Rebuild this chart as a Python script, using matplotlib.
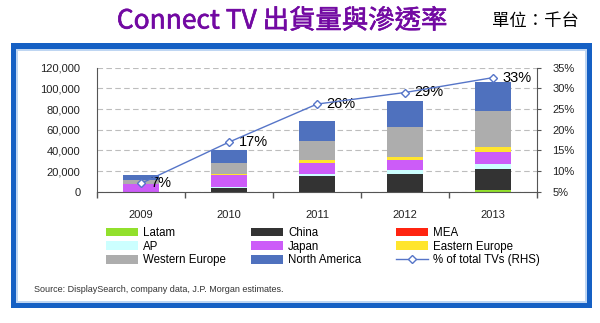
import matplotlib
matplotlib.use("Agg")
import matplotlib.pyplot as plt
import matplotlib.patheffects as pe
from matplotlib.patches import Rectangle
from matplotlib.ticker import FuncFormatter

# data (thousand units)
years = ["2009", "2010", "2011", "2012", "2013"]
latam = [0, 0, 0, 0, 1500]
china = [0, 3900, 15200, 17100, 20300]
mea = [0, 0, 0, 0, 0]
ap = [0, 700, 1600, 3600, 4800]
japan = [7000, 11300, 10650, 9700, 11600]
east_eu = [0, 1550, 3200, 3500, 5100]
west_eu = [4300, 10650, 18400, 29000, 34800]
n_america = [4600, 12300, 19350, 24900, 28000]
pct_tvs = [7.0, 17.0, 26.2, 29.0, 32.6]
pct_labels = ["7%", "17%", "26%", "29%", "33%"]

region_names = ["Latam", "China", "MEA", "AP", "Japan",
                "Eastern Europe", "Western Europe", "North America"]
region_values = [latam, china, mea, ap, japan, east_eu, west_eu, n_america]
region_colors = ["#92E02C", "#333333", "#FF2410", "#CCFFFF", "#CC5CF8",
                 "#FFE52E", "#ADADAD", "#4F71BE"]

plt.rcParams["font.family"] = ["Liberation Sans", "DejaVu Sans"]

W, H = 600, 323
fig = plt.figure(figsize=(W / 100, H / 100), dpi=100)
fig.patch.set_facecolor("white")


def fx(px):
    return px / W


def fy(py):
    return 1 - py / H


# blue frame
fig.add_artist(Rectangle((fx(11), fy(308)), fx(592) - fx(11), fy(43) - fy(308),
                         transform=fig.transFigure, facecolor="#1560C4",
                         edgecolor="none", zorder=-10))
fig.add_artist(Rectangle((fx(16), fy(303)), fx(587) - fx(16), fy(49) - fy(303),
                         transform=fig.transFigure, facecolor="#BFD6F2",
                         edgecolor="none", zorder=-9))
fig.add_artist(Rectangle((fx(18), fy(301)), fx(585) - fx(18), fy(51) - fy(301),
                         transform=fig.transFigure, facecolor="white",
                         edgecolor="none", zorder=-8))

title_color = "#7209A2"
fig.text(fx(282), fy(21), "Connect TV 出貨量與滲透率", color=title_color,
         fontsize=19, ha="center", va="center",
         family=["Noto Sans CJK TC", "DejaVu Sans"],
         path_effects=[pe.withStroke(linewidth=0.45, foreground=title_color)])
fig.text(fx(535), fy(21), "單位：千台", color="black", fontsize=12.5,
         ha="center", va="center", family=["Noto Sans CJK TC", "DejaVu Sans"])

ax = fig.add_axes([fx(97), fy(191.7), fx(537) - fx(97), fy(67.7) - fy(191.7)])
ax.set_facecolor("none")
x = list(range(len(years)))

bottoms = [0] * len(years)
bars = []
for name, vals, col in zip(region_names, region_values, region_colors):
    b = ax.bar(x, vals, width=0.40, bottom=bottoms, color=col,
               edgecolor="none", label=name, zorder=2)
    bars.append(b)
    bottoms = [bt + v for bt, v in zip(bottoms, vals)]

ax.set_xlim(-0.5, 4.5)
ax.set_ylim(0, 120000)
ax.set_yticks(range(0, 120001, 20000))
ax.yaxis.set_major_formatter(FuncFormatter(lambda v, p: f"{v:,.0f}"))
ax.tick_params(axis="y", length=0, pad=12, labelsize=8, labelcolor="#222222")
ax.set_xticks([i - 0.5 for i in range(len(years) + 1)])
ax.set_xticklabels([])
ax.set_xticks(x, minor=True)
ax.set_xticklabels(years, minor=True)
ax.tick_params(axis="x", which="major", length=4, width=1, color="#555555",
               direction="out")
ax.tick_params(axis="x", which="minor", length=0, pad=13, labelsize=8,
               labelcolor="#222222")
ax.grid(axis="y", color="#BDBDBD", linestyle=(0, (5, 3)), linewidth=0.8)
ax.set_axisbelow(True)
for s in ["top", "right"]:
    ax.spines[s].set_visible(False)
for s in ["left", "bottom"]:
    ax.spines[s].set_color("#555555")

ax2 = ax.twinx()
ax2.set_ylim(5, 35)
ax2.set_yticks(range(5, 36, 5))
ax2.yaxis.set_major_formatter(FuncFormatter(lambda v, p: f"{v:.0f}%"))
ax2.tick_params(axis="y", length=3, color="#555555", pad=8, labelsize=8,
                labelcolor="#222222")
for s in ["top", "left", "bottom"]:
    ax2.spines[s].set_visible(False)
ax2.spines["right"].set_color("#555555")

line, = ax2.plot(x, pct_tvs, color="#5675C8", linewidth=1, marker="D",
                 markersize=4.5, markerfacecolor="white",
                 markeredgecolor="#5675C8", markeredgewidth=1,
                 label="% of total TVs (RHS)", zorder=5)
for xi, v, lbl in zip(x, pct_tvs, pct_labels):
    ax2.annotate(lbl, (xi, v), xytext=(7, 0), textcoords="offset points",
                 ha="left", va="center", fontsize=10.5, color="black")

# legend: three columns, placed one by one
columns = [
    ([bars[0], bars[3], bars[6]], [region_names[0], region_names[3], region_names[6]], 106),
    ([bars[1], bars[4], bars[7]], [region_names[1], region_names[4], region_names[7]], 251),
    ([bars[2], bars[5], line], [region_names[2], region_names[5], line.get_label()], 396),
]
for handles, labels, left in columns:
    fig.legend(handles, labels, loc="upper left",
               bbox_to_anchor=(fx(left), fy(227)), frameon=False, fontsize=8.3,
               handlelength=2.8, handleheight=0.8, handletextpad=0.4,
               labelspacing=0.15, borderpad=0, borderaxespad=0)

fig.text(fx(34), fy(290), "Source: DisplaySearch, company data, J.P. Morgan estimates.",
         fontsize=6.5, color="#333333", ha="left", va="center")

fig.savefig("out.png", dpi=100)
